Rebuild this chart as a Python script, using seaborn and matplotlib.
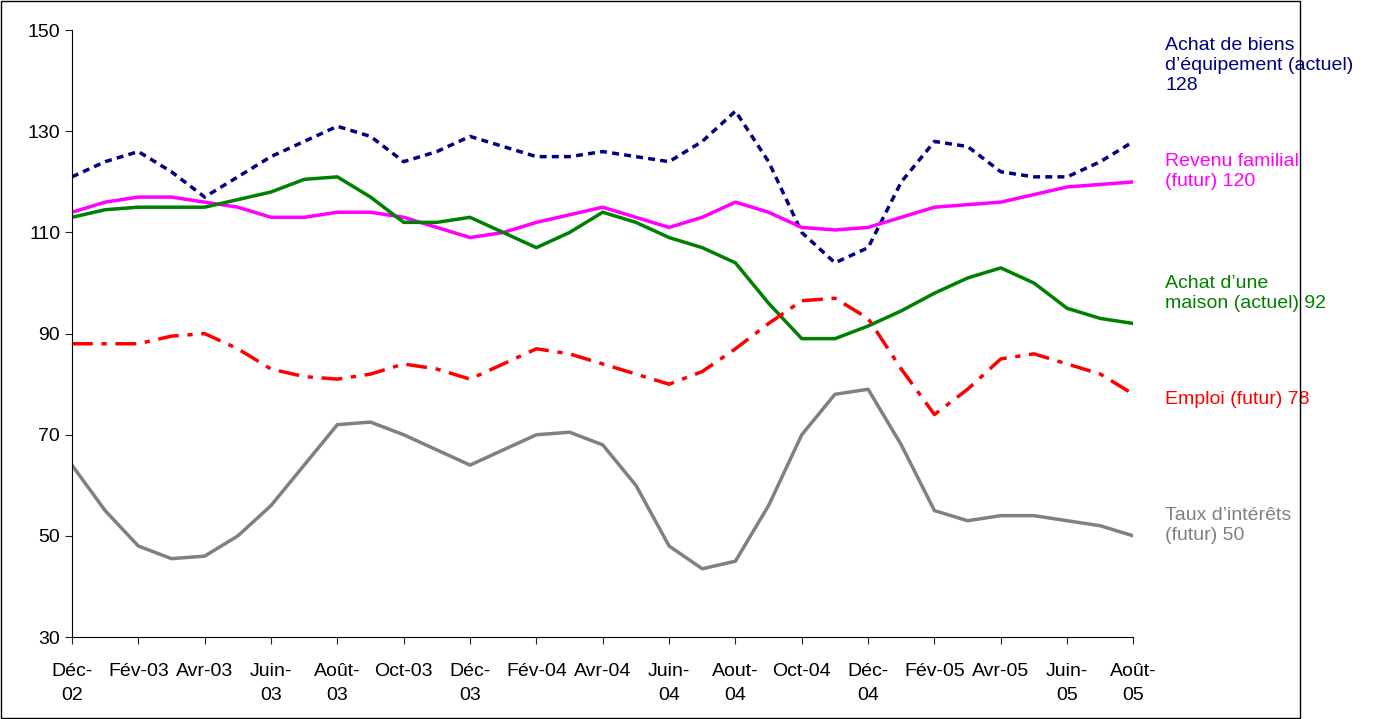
import numpy as np
import pandas as pd
import matplotlib.pyplot as plt
import seaborn as sns

sns.set_style("white")
plt.rcParams['font.family'] = ['Liberation Sans', 'DejaVu Sans']

months = np.arange(33)
tick_labels = ["Déc-\n02", "Fév-03", "Avr-03", "Juin-\n03", "Août-\n03", "Oct-03", "Déc-\n03",
               "Fév-04", "Avr-04", "Juin-\n04", "Aout-\n04", "Oct-04", "Déc-\n04", "Fév-05",
               "Avr-05", "Juin-\n05", "Août-\n05"]

biens = [121, 124, 126, 122, 117, 121, 125, 128, 131, 129, 124, 126, 129, 127, 125, 125, 126,
         125, 124, 128, 134, 124, 110, 104, 107, 120, 128, 127, 122, 121, 121, 124, 128]
revenu = [114, 116, 117, 117, 116, 115, 113, 113, 114, 114, 113, 111, 109, 110, 112, 113.5, 115,
          113, 111, 113, 116, 114, 111, 110.5, 111, 113, 115, 115.5, 116, 117.5, 119, 119.5, 120]
maison = [113, 114.5, 115, 115, 115, 116.5, 118, 120.5, 121, 117, 112, 112, 113, 110, 107, 110, 114,
          112, 109, 107, 104, 96, 89, 89, 91.5, 94.5, 98, 101, 103, 100, 95, 93, 92]
emploi = [88, 88, 88, 89.5, 90, 87, 83, 81.5, 81, 82, 84, 83, 81, 84, 87, 86, 84,
          82, 80, 82.5, 87, 92, 96.5, 97, 93, 83, 74, 79, 85, 86, 84, 82, 78]
taux = [64, 55, 48, 45.5, 46, 50, 56, 64, 72, 72.5, 70, 67, 64, 67, 70, 70.5, 68,
        60, 48, 43.5, 45, 56, 70, 78, 79, 68, 55, 53, 54, 54, 53, 52, 50]

series = [
    (biens, "#000080", (0, (2, 1.5)), "Achat de biens\nd’équipement (actuel)\n128", 143),
    (revenu, "#FF00FF", "-", "Revenu familial\n(futur) 120", 122),
    (maison, "#008000", "-", "Achat d’une\nmaison (actuel) 92", 98),
    (emploi, "#FF0000", (0, (6, 2.5, 1.5, 2.5)), "Emploi (futur) 78", 77),
    (taux, "#808080", "-", "Taux d’intérêts\n(futur) 50", 52),
]

fig = plt.figure(figsize=(13.84, 7.19), dpi=100)
ax = fig.add_axes([0.052, 0.114, 0.767, 0.844])
for vals, col, ls, lab, ypos in series:
    df = pd.DataFrame({"m": months, "v": vals})
    sns.lineplot(data=df, x="m", y="v", ax=ax, color=col, linestyle=ls, linewidth=2.5)
    ax.text(1.03, (ypos - 30) / 120, lab, transform=ax.transAxes, color=col,
            fontsize=14, va="center", ha="left", linespacing=1.25)

ax.set_xlim(0, 32)
ax.set_ylim(30, 150)
ax.set_yticks(range(30, 151, 20))
ax.set_xticks(range(0, 33, 2))
ax.set_xticklabels(tick_labels, fontsize=14, linespacing=1.5)
ax.tick_params(axis="y", labelsize=14, direction="out", length=5, left=True, labelcolor="black")
ax.tick_params(axis="x", direction="out", length=5, bottom=True, pad=14, labelcolor="black")
ax.set_xlabel("")
ax.set_ylabel("")
for s in ["top", "right"]:
    ax.spines[s].set_visible(False)
for s in ["left", "bottom"]:
    ax.spines[s].set_color("black")
fig.patches.append(plt.Rectangle((0.001, 0.001), 0.938, 0.997, transform=fig.transFigure,
                                 fill=False, edgecolor="black", linewidth=1))
plt.savefig("out.png", dpi=100)
